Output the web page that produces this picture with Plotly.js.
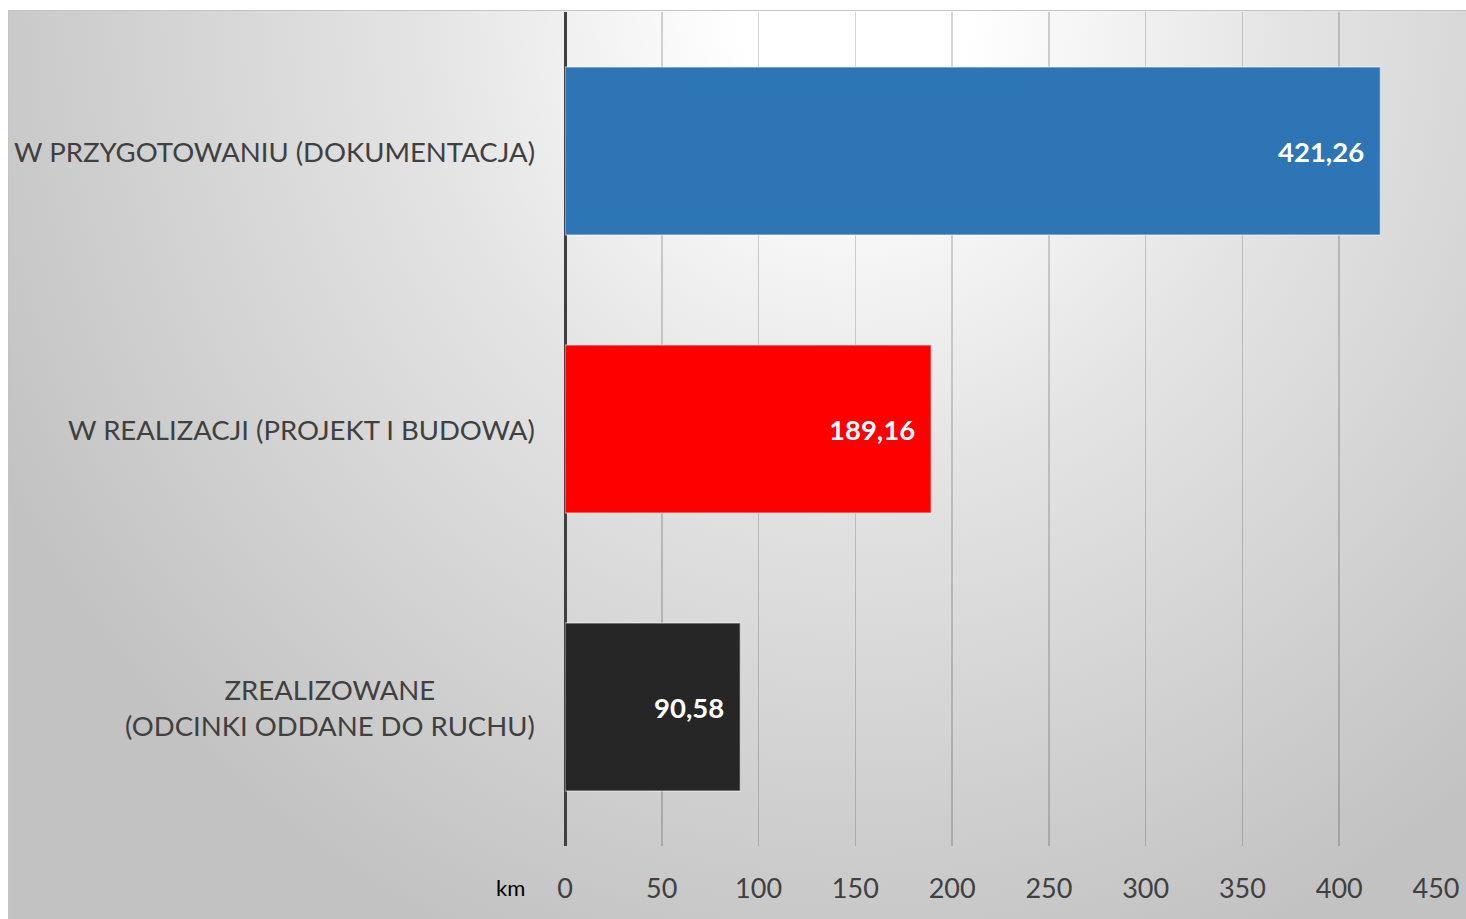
<!DOCTYPE html>
<html>
<head>
<meta charset="utf-8">
<script src="https://cdn.plot.ly/plotly-3.0.1.min.js"></script>
<style>
  html, body { margin: 0; padding: 0; background: #ffffff; }
  #bg {
    position: absolute; left: 8px; top: 10px; width: 1458px; height: 909px;
    border-top: 1px solid #c4c4c4; border-left: 1px solid #c4c4c4; box-sizing: border-box;
    background: radial-gradient(ellipse 66% 112% at 58% 0%, #ffffff 0%, #ffffff 12%, #e4e4e4 45%, #c2c2c2 100%);
  }
  #chart { position: absolute; left: 0; top: 0; width: 1466px; height: 919px; }
</style>
</head>
<body>
<div id="bg"></div>
<div id="chart"></div>
<script>
const categories = [
  "W PRZYGOTOWANIU (DOKUMENTACJA)",
  "W REALIZACJI (PROJEKT I BUDOWA)",
  "ZREALIZOWANE<br>(ODCINKI ODDANE DO RUCHU)"
];
const values = [421.26, 189.16, 90.58];
const barColors = ["#2e75b6", "#ff0000", "#262626"];
const xTicks = [0, 50, 100, 150, 200, 250, 300, 350, 400, 450];
const unitLabel = "km";

const FONT = "Lato, 'Open Sans', sans-serif";

const trace = {
  type: "bar",
  orientation: "h",
  y: categories,
  x: values,
  marker: { color: barColors, line: { color: "rgba(255,255,255,0.45)", width: 1.5 } },
  hoverinfo: "none",
  showlegend: false
};

const annotations = [];
categories.forEach((c, i) => {
  annotations.push({
    xref: "paper", yref: "y", x: 0, y: c, xanchor: "right", yanchor: "middle",
    xshift: -28, text: c, showarrow: false, align: "center",
    font: { family: FONT, size: 27.5, color: "#404040" }
  });
  annotations.push({
    xref: "x", yref: "y", x: values[i], y: c, xanchor: "right", yanchor: "middle",
    xshift: -14, text: values[i].toFixed(2).replace(".", ","), showarrow: false,
    font: { family: FONT, size: 27.5, color: "#ffffff", weight: "bold" }
  });
});
annotations.push({
  xref: "paper", yref: "paper", x: 0, y: 0, xanchor: "right", yanchor: "top",
  xshift: -38, yshift: -26, text: unitLabel, showarrow: false,
  font: { family: FONT, size: 22, color: "#000000" }
});

const layout = {
  width: 1466, height: 919,
  margin: { l: 565, r: 30, t: 12, b: 73 },
  paper_bgcolor: "rgba(0,0,0,0)",
  plot_bgcolor: "rgba(0,0,0,0)",
  bargap: 0.396,
  separators: ", ",
  xaxis: {
    range: [0, 450],
    tickvals: xTicks,
    ticktext: xTicks.map(String),
    showgrid: true, gridcolor: "rgba(0,0,0,0.17)", gridwidth: 1.5,
    zeroline: true, zerolinecolor: "#404040", zerolinewidth: 3,
    showline: false,
    ticks: "outside", ticklen: 19, tickcolor: "rgba(0,0,0,0)",
    tickfont: { family: FONT, size: 27, color: "#404040" },
    fixedrange: true
  },
  yaxis: {
    type: "category",
    autorange: "reversed",
    showticklabels: false,
    showgrid: false, zeroline: false, showline: false,
    fixedrange: true
  },
  annotations: annotations
};

Plotly.newPlot("chart", [trace], layout, { displayModeBar: false, staticPlot: true });
</script>
</body>
</html>
